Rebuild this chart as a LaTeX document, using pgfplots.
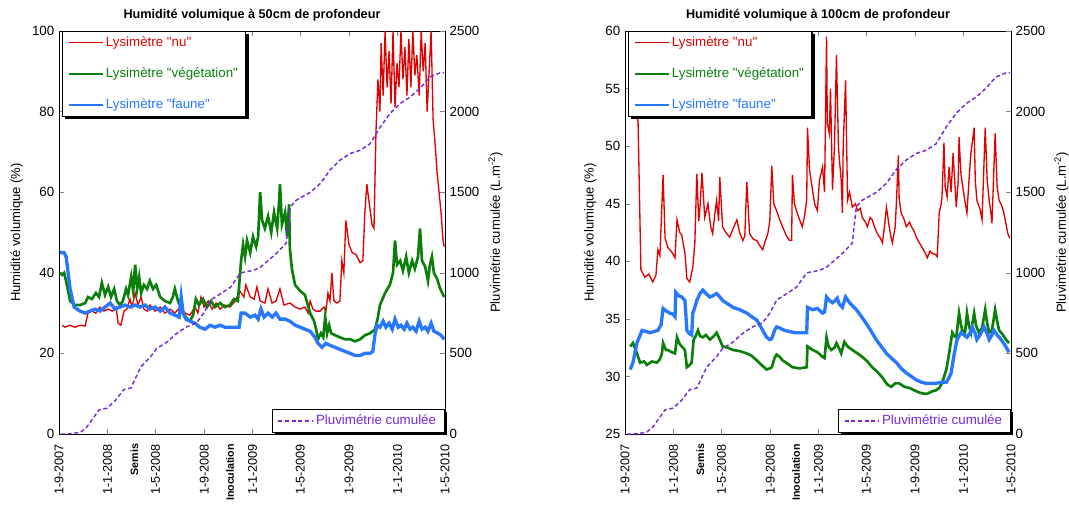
\documentclass[border=0pt]{standalone}
\usepackage{fontspec}
\setmainfont{Liberation Sans}[Ligatures=TeXOff]
\usepackage{pgfplots}
\usepackage{pgfplotstable}
\pgfplotsset{compat=1.18}

\definecolor{cnu}{RGB}{225,0,0}
\definecolor{cveg}{RGB}{10,128,10}
\definecolor{cfau}{RGB}{40,120,255}
\definecolor{cpluie}{RGB}{120,40,220}

% jours depuis le 1-9-2007 / pluie cumulee (L.m-2)
\pgfplotstableread{
d r
5 0
13 0
35 3
55 12
70 43
88 105
101 150
121 160
143 210
163 275
181 285
206 415
231 480
246 530
272 570
297 625
322 665
347 690
365 750
382 830
407 870
432 910
458 1000
490 1015
508 1035
548 1120
573 1185
583 1410
598 1450
634 1500
659 1555
684 1640
709 1700
734 1740
759 1760
784 1800
810 1905
835 1990
860 2050
885 2090
910 2145
935 2215
960 2240
970 2242
}\pluie

% 50 cm
\pgfplotstableread{
d h
8 27
15 26.5
28 27
40 26.5
53 27
66 26.8
73 30
83 30.5
93 30
103 31.5
113 30.5
124 31
134 30.5
144 31.5
149 27.5
156 27
164 30.5
171 31
179 33.5
184 31.5
192 35
199 32
207 34
214 31
222 30.5
229 32
242 30.5
255 31.5
267 30
280 31
292 30
305 31.5
318 30
330 29.5
343 31.5
350 30
358 34
366 31.5
376 33
386 31
396 32.5
406 31
418 32
431 31.5
444 33
456 35.5
466 34
471 37
482 34
492 33.5
499 36.5
507 33
519 32.5
527 36
537 32.5
547 33
557 36
567 32
582 32.5
595 31.5
608 31
620 31.5
628 30
633 33
640 31
648 30.5
658 30.5
668 31.5
673 30.5
678 35
683 33
688 40
693 33
701 32.5
708 33
713 43
718 40
723 53
731 47
739 45
749 44.5
759 42.5
766 43
771 55
776 62
781 58
789 52
794 51
799 75
804 88
809 80
812 97
817 84
822 100
827 86
832 95
837 82
842 100
847 81
852 92
857 86
862 100
867 88
872 96
877 84
882 98
887 86
892 100
897 89
902 94
908 84
913 100
918 90
923 97
928 80
933 90
938 100
943 78
948 72
953 65
958 60
963 55
968 48
971 46.5
}\nuA

\pgfplotstableread{
d h
3 40
8 39.5
13 40
20 37
28 33
40 32
53 32
66 32.5
73 34
83 33.5
93 35
101 34
108 37.5
116 34.5
124 36.5
131 34
139 36
146 33
154 32
161 33
169 36
174 34.5
182 39
187 35.5
192 42
197 36
202 39
207 35
214 37
222 36
229 38
237 36
245 37
255 34
267 33
280 32.5
287 34
292 36
300 33
310 30.5
320 29
330 28
338 29.5
345 33.5
353 32
363 33.5
373 31.5
383 33
393 31.5
406 32.5
418 31.5
431 32
441 33.5
451 33
459 43
464 47
469 44
474 48
482 45
489 49
497 46.5
502 49
507 60
512 53
519 51
527 54
535 50
542 55
550 51
555 58
557 62
562 52
570 55
575 49
580 57
582 46
587 41
595 37
608 35.5
620 34.5
633 30
643 28
648 26
653 23.5
660 25
666 24
671 29
676 25
681 27
686 25
696 24.5
708 24
721 23.5
734 23.5
746 23
759 23.5
771 24.5
784 25
797 26
804 29
809 32
822 35
834 37
842 40
847 48
852 42
860 43
867 40.5
875 44
882 40
890 43
897 41
905 44
910 51
915 43
923 41.5
930 38
935 42
940 44
945 40
953 38.5
961 36
971 34
}\vegA

\pgfplotstableread{
d h
3 45
13 45
18 44
28 36
38 31.5
53 30.5
66 30
78 30.5
91 31
103 30.5
116 31.5
129 32.5
141 31
154 31.5
166 32
179 31.5
192 32
204 31.5
217 32
229 31
242 31.5
255 30.5
267 31.5
280 30
292 29.5
303 29
308 34
313 30
320 28.5
330 28
343 27.5
355 26.5
368 26
381 27
393 26.5
406 27
418 26.5
431 26.5
444 26.5
454 26.5
459 30
469 30
482 29
494 29.5
502 28.5
509 31
517 29
527 30
537 29
547 30
557 28.5
570 28.5
582 28
595 27
608 26.5
620 26
633 25.5
645 24
653 22.5
663 21.5
673 22.5
683 22
696 21.5
708 21
721 20.5
734 20
746 19.5
759 19.5
771 20
784 20
791 20.5
797 25
802 27
809 26.5
817 28
824 26.5
832 27.5
840 26
847 28.5
855 26.5
862 27
870 26
877 27.5
885 26
892 26.5
900 25.5
908 28
915 26
923 26.5
930 25.5
938 27.5
945 25.5
955 25
963 24.5
971 23.5
}\fauA

% 100 cm
\pgfplotstableread{
d h
15 57
33 52
40 39.3
50 38.6
60 38.9
70 38.2
78 38.8
83 41
88 40.5
96 47.5
101 42
108 41.2
118 40.8
126 40.3
131 43.6
138 42.5
143 42.3
151 40.7
156 38.5
163 38.2
171 39.5
176 41.6
181 47.6
186 43.5
189 44.7
194 47.7
201 43.8
209 45
216 43
221 42.4
226 44
231 45.3
236 43.5
239 47.3
246 43
254 42.5
264 42.1
272 42.8
282 43.6
289 42.5
297 41.8
302 42.2
307 46.9
314 42.4
324 41.9
332 41.8
339 41.4
347 41
354 41.8
360 42.4
365 43.5
370 48.3
375 45
382 44.4
390 43.6
397 43
407 42.2
415 41.8
420 41.8
422 47.5
427 45
432 44.4
440 43.6
447 43
453 44
458 45.3
460 51.6
465 48
470 46.8
478 45
485 44.4
490 47
498 48.2
503 46
508 59.5
510 52
515 51.1
518 55
523 46.2
528 50
533 57.9
538 50
540 49
545 47
548 44.2
550 50
556 55.7
561 45.3
566 46
573 44.7
581 45
586 44.4
593 44.6
598 43.8
606 43.4
611 43
618 43.8
623 43.6
631 42.8
636 42.4
644 42
649 41.6
654 43
659 44.7
664 43.5
666 43
671 42
674 41.6
681 43
684 45
689 49.2
691 45.5
696 44.2
704 43.6
709 43
717 43.4
722 43
729 42.6
734 42.1
742 41.6
749 41.2
757 40.7
762 40.3
769 40.9
774 40.7
782 40.6
787 40.4
792 44.2
797 45
799 45.6
804 50.3
807 46.5
812 45.6
817 48.2
822 46
827 49.4
832 46.5
835 44.7
840 47
842 50.8
847 47.5
855 45.6
862 44.2
867 47
872 49.4
880 51.6
883 47
887 45.3
895 44.5
900 43.6
908 51.6
913 47
918 45.3
923 44
925 43.3
933 51.1
938 46.5
943 45.3
950 44.8
955 44.2
960 43.3
965 42.4
970 42
}\nuB

\pgfplotstableread{
d h
13 32.6
20 32.9
30 32
38 31.2
48 31.3
55 31
68 31.3
80 31.2
88 31.5
93 32
96 32.9
103 32.3
108 32.3
118 32.1
126 32
131 33.4
138 32.8
143 32.6
151 32.3
156 30.8
163 31
168 31.2
173 33.2
178 33.5
184 34
189 33.5
196 33.4
204 33.6
214 33.2
224 33.5
231 33.8
239 33.2
246 32.6
259 32.5
272 32.3
289 32.2
307 32
319 31.8
332 31.4
344 31
357 30.6
365 30.7
370 30.8
377 31.6
382 31.9
390 31.7
397 31.4
410 31.1
422 30.8
440 30.7
458 30.8
460 32.6
473 32.3
485 32.1
498 31.7
503 31.6
508 33.4
513 32.6
520 32.3
528 32.5
533 32.9
540 32.4
545 32
553 33
561 32.6
573 32.3
586 32
598 31.7
611 31.3
623 30.8
636 30.4
649 29.9
661 29.3
671 29.1
681 29.4
691 29.4
704 29.1
717 29
729 28.8
742 28.6
754 28.5
762 28.5
774 28.7
784 28.8
792 29
799 29.4
810 30.6
817 32
825 33.8
830 33.5
835 33.4
842 35.5
847 34.5
850 34
857 33.8
862 35.5
867 34.4
872 33.8
880 35.5
885 34.4
892 33.8
900 34.2
908 35.8
913 34.6
918 33.8
925 34
933 35.8
938 34.8
943 34
953 33.6
960 33.2
968 32.9
}\vegB

\pgfplotstableread{
d h
13 30.6
20 31.2
30 32.9
43 34
53 33.9
63 33.8
73 33.9
83 34
91 34.5
96 35.9
103 35.7
113 35.5
121 35.4
126 35.2
128 37.3
136 37
143 36.9
151 36.6
156 34
163 33.7
168 33.6
171 35.5
176 36
181 36.6
189 37.2
196 37.5
204 37.2
214 36.9
221 37
231 37.2
239 36.9
246 36.6
259 36.3
272 36
289 35.8
307 35.5
319 35.2
332 34.9
344 34.2
357 33.4
365 33.2
370 33.3
377 34
382 34.3
390 34.2
402 34
415 33.9
427 33.8
440 33.8
458 33.8
460 36
473 35.8
485 35.9
498 35.5
503 35.6
508 36.9
515 36.6
523 36.4
530 36.6
535 36.8
540 36.3
548 36
556 36.9
566 36.4
583 35.8
596 35.2
608 34.6
621 33.9
633 33.2
646 32.6
659 32
671 31.6
684 31.2
696 30.7
709 30.3
722 30
734 29.7
747 29.5
759 29.4
772 29.4
784 29.4
797 29.5
810 29.5
817 29.9
822 30.3
830 32
837 33.2
847 33.8
855 33.6
862 33.4
870 33.8
875 34.3
883 33.7
887 33.2
895 33.6
905 34.3
913 33.7
918 33.2
925 33.6
930 34
938 33.6
948 33.2
958 32.7
968 32.1
}\fauB

\pgfplotsset{
  panneau/.style={
    scale only axis, width=289.5pt, height=302.25pt,
    xmin=0, xmax=973,
    xtick={0,122,243,366,488,608,731,853,973},
    xticklabels={1-9-2007,1-1-2008,1-5-2008,1-9-2008,1-1-2009,1-5-2009,1-9-2009,1-1-2010,1-5-2010},
    tick label style={font=\fontsize{10}{12}\selectfont},
    x tick label style={rotate=90, anchor=east, font=\fontsize{9.5}{11}\selectfont},
    xticklabel shift=4pt,
    extra x ticks={190,431},
    extra x tick labels={{\fontsize{8}{10}\selectfont\bfseries Semis},{\fontsize{8}{10}\selectfont\bfseries Inoculation}},
    extra x tick style={major tick length=0pt},
    tick align=inside, ytick pos=left, xtick pos=both,
    major tick length=4pt,
    label style={font=\fontsize{9.8}{12}\selectfont},
    title style={font=\fontsize{9.5}{11}\selectfont\bfseries, yshift=-2pt},
    /pgf/number format/assume math mode=true,
    axis line style={line width=0.6pt},
    legend style={at={(0.008,1)}, anchor=north west, draw=black, line width=0.8pt,
      fill=white, font=\fontsize{10}{12}\selectfont, row sep=10.5pt, inner xsep=4pt, inner ysep=2pt},
    legend cell align=left,
    legend image code/.code={\draw[##1, line width=0.9pt] (0cm,0cm) -- (0.9cm,0cm);},
    ylabel={Humidité volumique (\%)},
  },
  pluiestyle/.style={
    scale only axis, width=289.5pt, height=302.25pt,
    xmin=0, xmax=973, ymin=0, ymax=2500,
    ytick={0,500,1000,1500,2000,2500},
    axis x line=none, axis y line*=right,
    tick align=inside, major tick length=4pt,
    tick label style={font=\fontsize{10}{12}\selectfont},
    label style={font=\fontsize{9.8}{12}\selectfont},
    /pgf/number format/assume math mode=true,
    /pgf/number format/1000 sep={},
    axis line style={line width=0.6pt},
    ylabel={Pluvimétrie cumulée (L.m\textsuperscript{-2})},
    legend style={at={(0.999,0.003)}, anchor=south east, draw=black, line width=0.8pt,
      fill=white, font=\fontsize{10}{12}\selectfont, inner xsep=4pt, inner ysep=2pt},
    legend image code/.code={\draw[##1] (0cm,0cm) -- (0.9cm,0cm);},
  },
  pl/.style={dash pattern=on 3pt off 2pt, line width=1.1pt, color=cpluie},
}

\begin{document}
\begin{tikzpicture}
\useasboundingbox (-44.25pt,-52.5pt) rectangle (757.5pt,325.5pt);

% ---- 50 cm
\begin{axis}[panneau, at={(0pt,0pt)}, ymin=0, ymax=100, ytick={0,20,40,60,80,100},
  title={Humidité volumique à 50cm de profondeur}, legend style={name=legA}]
\addplot[cnu, line width=1pt] table[x=d,y=h] {\nuA};
\addlegendentry[text=cnu]{Lysimètre "nu"}
\addplot[cveg, line width=2pt] table[x=d,y=h] {\vegA};
\addlegendentry[text=cveg]{Lysimètre "végétation"}
\addplot[cfau, line width=2.5pt] table[x=d,y=h] {\fauA};
\addlegendentry[text=cfau]{Lysimètre "faune"}
\end{axis}
\begin{axis}[pluiestyle, at={(0pt,0pt)}, legend style={name=legB}]
\addplot[pl] table[x=d,y=r] {\pluie};
\addlegendentry[text=cpluie]{Pluvimétrie cumulée}
\end{axis}

% ---- 100 cm
\begin{axis}[panneau, at={(424.5pt,0pt)}, ymin=25, ymax=60, ytick={25,30,...,60},
  title={Humidité volumique à 100cm de profondeur}, legend style={name=legC}]
\addplot[cnu, line width=1pt] table[x=d,y=h] {\nuB};
\addlegendentry[text=cnu]{Lysimètre "nu"}
\addplot[cveg, line width=2pt] table[x=d,y=h] {\vegB};
\addlegendentry[text=cveg]{Lysimètre "végétation"}
\addplot[cfau, line width=2.5pt] table[x=d,y=h] {\fauB};
\addlegendentry[text=cfau]{Lysimètre "faune"}
\end{axis}
\begin{axis}[pluiestyle, at={(424.5pt,0pt)}, legend style={name=legD}]
\addplot[pl] table[x=d,y=r] {\pluie};
\addlegendentry[text=cpluie]{Pluvimétrie cumulée}
\end{axis}

% ombres des legendes
\foreach \n in {legA,legB,legC,legD}{
  \fill[black] ([xshift=2pt]\n.south west) rectangle ([xshift=1.8pt,yshift=-1.8pt]\n.south east);
  \fill[black] ([yshift=-2pt]\n.north east) rectangle ([xshift=1.8pt,yshift=-1.8pt]\n.south east);
}
\end{tikzpicture}
\end{document}
